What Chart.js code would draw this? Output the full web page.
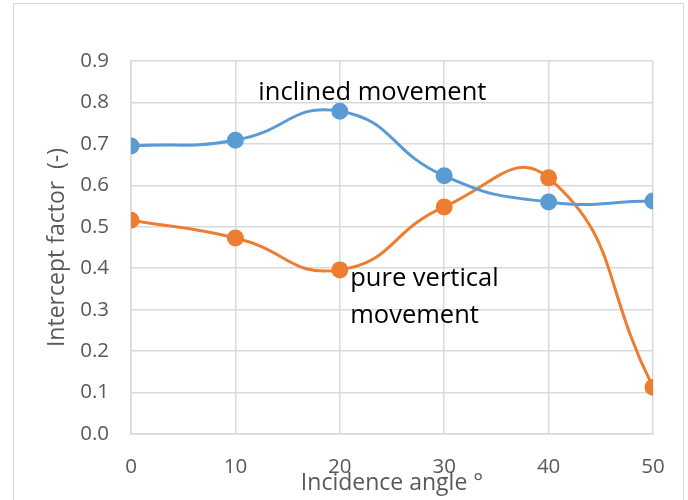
<!DOCTYPE html>
<html><head><meta charset="utf-8">
<script src="https://cdn.jsdelivr.net/npm/chart.js@4/dist/chart.umd.min.js"></script>
<style>
html,body{margin:0;padding:0;background:#fff;}
#wrap{position:relative;width:688px;height:500px;overflow:hidden;}
#frame{position:absolute;left:13px;top:3px;width:671px;height:520px;border:1.5px solid #d9d9d9;box-sizing:border-box;}
canvas{position:absolute;left:0;top:0;}
</style></head>
<body>
<div id="wrap"><div id="frame"></div><canvas id="c" width="688" height="500"></canvas></div>
<script>
const angles = [0, 10, 20, 30, 40, 50];
const inclined = [0.695, 0.709, 0.779, 0.623, 0.560, 0.562];
const pureVertical = [0.516, 0.473, 0.396, 0.548, 0.618, 0.113];
const yTicks = [0, 0.1, 0.2, 0.3, 0.4, 0.5, 0.6, 0.7, 0.8, 0.9];
const xTicks = [0, 10, 20, 30, 40, 50];
const annotations = [
  {text: 'inclined movement', x: 12.2, y: 0.823},
  {text: 'pure vertical', x: 21.0, y: 0.374},
  {text: 'movement', x: 21.0, y: 0.285}
];
const FONT = '"Open Sans", sans-serif';

const textPlugin = {
  id: 'textLabels',
  afterDatasetsDraw(chart) {
    const ctx = chart.ctx, xs = chart.scales.x, ys = chart.scales.y;
    ctx.save();
    ctx.fillStyle = '#000';
    ctx.font = '25.5px ' + FONT;
    ctx.textAlign = 'left';
    ctx.textBaseline = 'middle';
    annotations.forEach(a => ctx.fillText(a.text, xs.getPixelForValue(a.x), ys.getPixelForValue(a.y)));
    ctx.restore();
  }
};

new Chart(document.getElementById('c'), {
  type: 'line',
  data: {
    datasets: [
      {label: 'inclined movement', data: angles.map((a, i) => ({x: a, y: inclined[i]})),
       borderColor: '#5b9bd5', backgroundColor: '#5b9bd5', borderWidth: 3, pointRadius: 7, pointHoverRadius: 7, tension: 0.5},
      {label: 'pure vertical movement', data: angles.map((a, i) => ({x: a, y: pureVertical[i]})),
       borderColor: '#ed7d31', backgroundColor: '#ed7d31', borderWidth: 3, pointRadius: 7, pointHoverRadius: 7, tension: 0.5}
    ]
  },
  options: {
    responsive: false,
    animation: false,
    events: [],
    layout: {padding: {top: 61, right: 35, left: 0, bottom: 0}},
    plugins: {legend: {display: false}, tooltip: {enabled: false}},
    scales: {
      x: {
        type: 'linear', min: 0, max: 50,
        afterBuildTicks: s => { s.ticks = xTicks.map(v => ({value: v})); },
        afterFit: s => { s.height = 66; },
        grid: {color: '#d9d9d9', lineWidth: 1.5, drawTicks: false},
        border: {color: '#d9d9d9', width: 1.5},
        ticks: {color: '#595959', font: {family: FONT, size: 20.5}, padding: 21, maxRotation: 0},
        title: {display: true, text: 'Incidence angle °', color: '#595959', font: {family: FONT, size: 23}, padding: {top: 0, bottom: 3}}
      },
      y: {
        type: 'linear', min: 0, max: 0.9,
        afterBuildTicks: s => { s.ticks = yTicks.map(v => ({value: v})); },
        afterFit: s => { s.width = 131; },
        grid: {color: '#d9d9d9', lineWidth: 1.5, drawTicks: false},
        border: {color: '#d9d9d9', width: 1.5},
        ticks: {color: '#595959', font: {family: FONT, size: 20.5}, padding: 22, callback: v => v.toFixed(1)},
        title: {display: true, text: 'Intercept factor  (-)', color: '#595959', font: {family: FONT, size: 23}, padding: {top: 44, bottom: 44}}
      }
    }
  },
  plugins: [textPlugin]
});
</script>
</body></html>
